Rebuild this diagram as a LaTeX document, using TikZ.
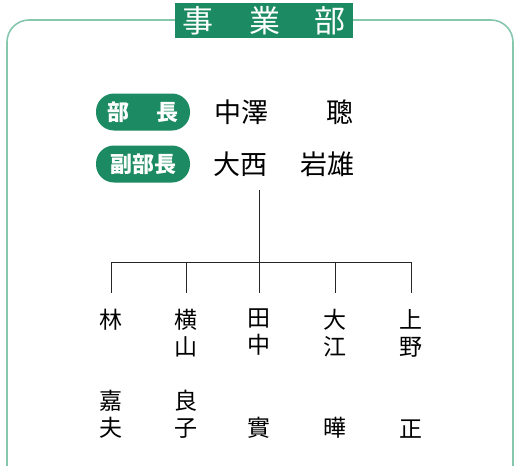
\documentclass[tikz,border=0pt]{standalone}
\usepackage{fontspec}
\newfontfamily\jp{Noto Sans CJK JP}
\definecolor{dgreen}{HTML}{1C8A62}
\definecolor{fgreen}{HTML}{86C8AE}
\begin{document}
\begin{tikzpicture}[x=1pt,y=-1pt,
  badge/.style={fill=dgreen,rounded corners=18pt,minimum width=94pt,minimum height=37pt,inner sep=0pt,text=white,font=\jp\fontsize{22}{22}\selectfont\bfseries},
  person/.style={font=\jp\fontsize{27}{27}\selectfont,inner sep=0pt,anchor=west},
  col/.style={font=\jp\fontsize{23}{27}\selectfont,align=center,inner sep=0pt},
  conn/.style={draw=black!85,line width=0.9pt}]
\useasboundingbox (0,0) rectangle (520,466);
\fill[white] (0,0) rectangle (520,466);
\begin{scope}
\clip (0,0) rectangle (520,466);
\draw[fgreen,line width=1.6pt,rounded corners=22pt] (7,20) rectangle (513,520);
\end{scope}
\node[fill=dgreen,minimum width=178pt,minimum height=35pt,inner sep=0pt,text=white,font=\jp\fontsize{31}{31}\selectfont] (title) at (264,20.5) {事\hspace{36pt}業\hspace{34pt}部};
\node[badge] (b1) at (143,112) {部\hspace{28pt}長};
\node[badge] (b2) at (143,164) {副部長};
\node[person] (n1) at (214,112) {中澤};
\node[person] (n1b) at (326,112) {聰};
\node[person] (n2) at (213,164) {大西};
\node[person] (n2b) at (300,164) {岩雄};
\coordinate (top) at (259,190);
\coordinate (hub) at (259,262);
\foreach \i/\x/\t/\b in {1/111/林/嘉\\夫, 2/186/横\\山/良\\子, 3/259/田\\中/實, 4/335/大\\江/曄, 5/411/上\\野/正}{
  \node[col,anchor=north] (c\i) at (\x,309) {\t};
  \node[col,anchor=south] (d\i) at (\x,439) {\b};
  \coordinate (k\i) at (\x,262);
}
\draw[conn] (top) -- (hub);
\draw[conn] (k1) -- (k5);
\foreach \i in {1,2,3,4,5}{
  \draw[conn] (k\i) -- ([yshift=16pt]c\i.north);
}
\end{tikzpicture}
\end{document}
